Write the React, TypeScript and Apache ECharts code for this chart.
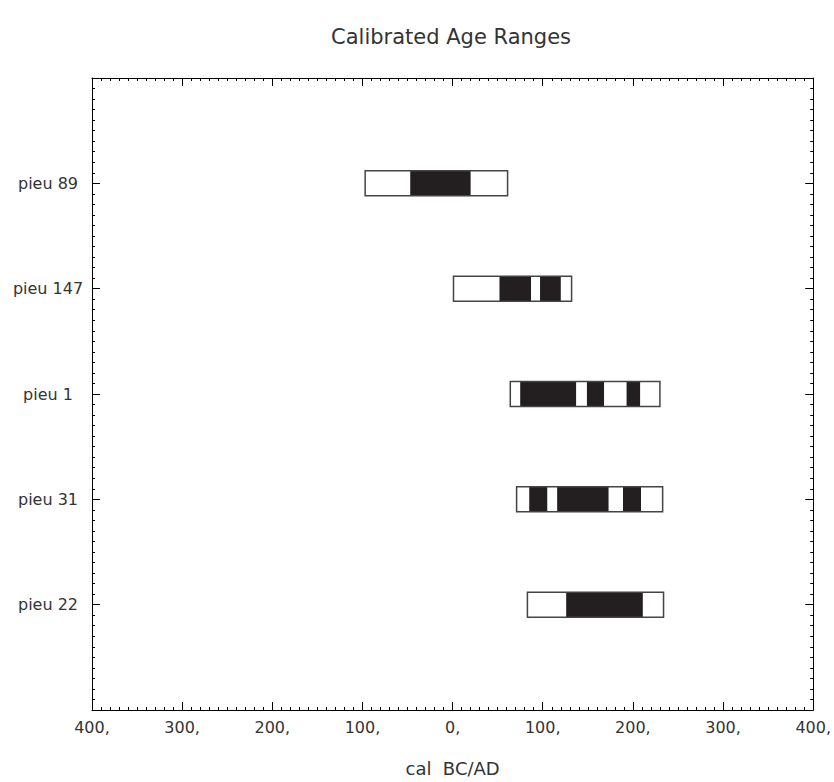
import React, { useEffect, useRef } from "react";
import * as echarts from "echarts";

const samples = ["pieu 89", "pieu 147", "pieu 1", "pieu 31", "pieu 22"];
const rangeStart = [-97, 1, 64, 71, 83];
const rangeEnd = [61, 132, 230, 233, 234];
const blackSegments: number[][][] = [
  [[-47, 20]],
  [[52, 87], [97, 120]],
  [[75, 137], [149, 168], [193, 208]],
  [[85, 105], [116, 173], [189, 209]],
  [[126, 211]],
];
const xTicks = [-400, -300, -200, -100, 0, 100, 200, 300, 400];

const FONT = "DejaVu Sans";

export default function App() {
  const ref = useRef<HTMLDivElement>(null);
  useEffect(() => {
    if (!ref.current) return;
    const chart = echarts.init(ref.current, null, { renderer: "svg" });
    const data = samples.map((s, i) => [i + 1, rangeStart[i], rangeEnd[i], i]);
    const halfH = 12.5;
    const tickCommon = {
      axisLine: { show: true, onZero: false, lineStyle: { color: "#000", width: 1 } },
      axisTick: { show: true, inside: true, length: 8, lineStyle: { color: "#000", width: 1 } },
      minorTick: { show: true, splitNumber: 10, length: 3, lineStyle: { color: "#000", width: 1 } },
      splitLine: { show: false },
      minorSplitLine: { show: false },
    };
    chart.setOption({
      animation: false,
      backgroundColor: "#fff",
      title: {
        text: "Calibrated Age Ranges",
        left: 446,
        textAlign: "center",
        top: 21,
        textStyle: { fontFamily: FONT, fontSize: 21, fontWeight: "normal", color: "#333" },
      },
      grid: { left: 92, right: 16, top: 78, bottom: 72, containLabel: false },
      xAxis: [
        {
          type: "value",
          min: -400,
          max: 400,
          interval: 100,
          position: "bottom",
          ...tickCommon,
          axisLabel: {
            show: true,
            margin: 9,
            fontFamily: FONT,
            fontSize: 16,
            color: "#333",
            formatter: (v: number) => (xTicks.includes(v) ? Math.abs(v) + "," : ""),
          },
          name: "cal  BC/AD",
          nameLocation: "middle",
          nameGap: 49,
          nameTextStyle: { fontFamily: FONT, fontSize: 18, color: "#333" },
        },
        {
          type: "value",
          min: -400,
          max: 400,
          interval: 100,
          position: "top",
          ...tickCommon,
          axisLabel: { show: false },
        },
      ],
      yAxis: [
        {
          type: "value",
          min: 0,
          max: 6,
          interval: 1,
          inverse: true,
          position: "left",
          ...tickCommon,
          axisLabel: {
            show: true,
            align: "center",
            margin: 44,
            fontFamily: FONT,
            fontSize: 16,
            color: "#333",
            formatter: (v: number) => (v >= 1 && v <= samples.length ? samples[v - 1] : ""),
          },
        },
        {
          type: "value",
          min: 0,
          max: 6,
          interval: 1,
          inverse: true,
          position: "right",
          ...tickCommon,
          axisLabel: { show: false },
        },
      ],
      series: [
        {
          type: "custom",
          xAxisIndex: 0,
          yAxisIndex: 0,
          data,
          encode: { x: [1, 2], y: 0 },
          renderItem: (params: any, api: any) => {
            const y = api.value(0);
            const s = api.value(1);
            const e = api.value(2);
            const idx = api.value(3);
            const p0 = api.coord([s, y]);
            const p1 = api.coord([e, y]);
            const children: any[] = [
              {
                type: "rect",
                shape: { x: p0[0], y: p0[1] - halfH, width: p1[0] - p0[0], height: halfH * 2 },
                style: { fill: "#fff", stroke: "none" },
              },
            ];
            blackSegments[idx].forEach((seg) => {
              const a = api.coord([seg[0], y]);
              const b = api.coord([seg[1], y]);
              children.push({
                type: "rect",
                shape: { x: a[0], y: a[1] - halfH, width: b[0] - a[0], height: halfH * 2 },
                style: { fill: "#231f20", stroke: "none" },
              });
            });
            children.push({
              type: "rect",
              shape: { x: p0[0], y: p0[1] - halfH, width: p1[0] - p0[0], height: halfH * 2 },
              style: { fill: "none", stroke: "#444", lineWidth: 1.5 },
            });
            return { type: "group", children };
          },
        },
      ],
    });
    return () => chart.dispose();
  }, []);
  return (
    <div
      ref={ref}
      style={{ position: "absolute", left: 0, top: 0, width: 834, height: 782 }}
    />
  );
}
